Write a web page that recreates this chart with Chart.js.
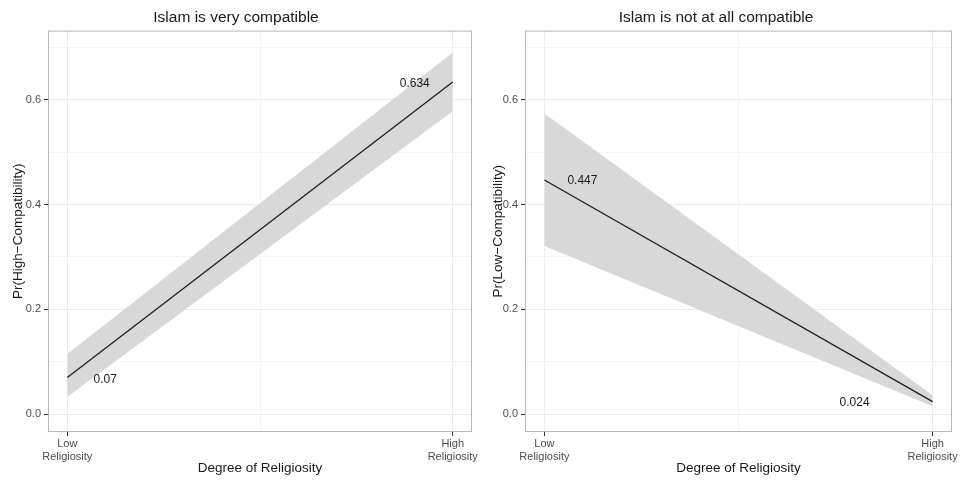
<!DOCTYPE html>
<html>
<head>
<meta charset="utf-8">
<script src="https://cdn.jsdelivr.net/npm/chart.js@4.4.1/dist/chart.umd.min.js"></script>
<style>
  html, body { margin: 0; padding: 0; background: #fff; }
  #wrap { position: relative; width: 960px; height: 480px; }
  .panel { position: absolute; top: 0; width: 480px; height: 480px; }
</style>
</head>
<body>
<div id="wrap">
  <div class="panel" style="left:0"><canvas id="leftChart" width="480" height="480"></canvas></div>
  <div class="panel" style="left:480px"><canvas id="rightChart" width="480" height="480"></canvas></div>
</div>
<script>
// x positions: 0 = Low religiosity, 1 = High religiosity
const religiosityX = [0, 1];
const xTickLabels = [['Low', 'Religiosity'], ['High', 'Religiosity']];
const xMinorTicks = [0.5];
const yMajorTicks = [0, 0.2, 0.4, 0.6];
const yMinorTicks = [0.1, 0.3, 0.5, 0.7];

// Islam is very compatible
const highCompatEst = [0.07, 0.634];
const highCompatLower = [0.033, 0.578];
const highCompatUpper = [0.115, 0.69];

// Islam is not at all compatible
const lowCompatEst = [0.447, 0.024];
const lowCompatLower = [0.321, 0.015];
const lowCompatUpper = [0.574, 0.036];

Chart.defaults.font.family = '"Liberation Sans", Arial, Helvetica, sans-serif';
Chart.defaults.color = '#4d4d4d';

function toPoints(values) {
  return values.map((v, i) => ({ x: religiosityX[i], y: v }));
}

// grey frame round the plot area, like theme_bw
const panelFrame = {
  id: 'panelFrame',
  afterDraw(chart) {
    const { ctx, chartArea: a } = chart;
    ctx.save();
    ctx.strokeStyle = '#b8b8b8';
    ctx.lineWidth = 1;
    ctx.strokeRect(a.left + 0.5, a.top + 0.5, a.right - a.left - 1, a.bottom - a.top - 1);
    ctx.restore();
  }
};

// value labels next to the end points of the estimate line (dataset 0)
const pointLabels = {
  id: 'pointLabels',
  afterDatasetsDraw(chart, args, opts) {
    const ds = chart.data.datasets[0];
    const meta = chart.getDatasetMeta(0);
    const ctx = chart.ctx;
    ctx.save();
    ctx.font = '12px "Liberation Sans", Arial, sans-serif';
    ctx.fillStyle = '#1a1a1a';
    ctx.textAlign = 'center';
    ctx.textBaseline = 'middle';
    meta.data.forEach((pt, i) => {
      const off = opts.offsets[i];
      ctx.fillText(String(ds.data[i].y), pt.x + off[0], pt.y + off[1]);
    });
    ctx.restore();
  }
};

function makeChart(id, title, yTitle, est, lower, upper, offsets, yWidth) {
  const ctx = document.getElementById(id).getContext('2d');
  return new Chart(ctx, {
    type: 'line',
    data: {
      // Chart.js paints the last dataset first, so the estimate line goes first to sit on top
      datasets: [
        {
          data: toPoints(est),
          borderColor: '#1e1e1e',
          borderWidth: 1.3,
          pointRadius: 0,
          fill: false
        },
        {
          data: toPoints(upper),
          borderWidth: 0,
          pointRadius: 0,
          backgroundColor: '#d8d8d8',
          fill: '+1'
        },
        {
          data: toPoints(lower),
          borderWidth: 0,
          pointRadius: 0,
          fill: false
        }
      ]
    },
    options: {
      responsive: false,
      animation: false,
      layout: { padding: { left: 0, right: 8, top: 0, bottom: 0 } },
      plugins: {
        legend: { display: false },
        tooltip: { enabled: false },
        title: {
          display: true,
          text: title,
          color: '#1a1a1a',
          font: { size: 15.5, weight: 'normal' },
          padding: { top: 8, bottom: 4 }
        },
        pointLabels: { offsets: offsets }
      },
      scales: {
        x: {
          type: 'linear',
          min: -0.05,
          max: 1.05,
          afterFit(scale) { scale.height = 48; },
          afterBuildTicks(scale) {
            scale.ticks = religiosityX.concat(xMinorTicks).map(v => ({ value: v }));
          },
          ticks: {
            autoSkip: false,
            maxRotation: 0,
            padding: 1,
            font: { size: 11, lineHeight: 1.2 },
            color: '#4d4d4d',
            callback(value) {
              const i = religiosityX.indexOf(value);
              return i >= 0 ? xTickLabels[i] : '';
            }
          },
          grid: {
            color(c) { return c.tick && xMinorTicks.includes(c.tick.value) ? '#f4f4f4' : '#ececec'; },
            tickColor(c) { return c.tick && xMinorTicks.includes(c.tick.value) ? 'rgba(0,0,0,0)' : '#333'; },
            tickLength: 4,
            lineWidth: 1
          },
          border: { display: false },
          title: {
            display: true,
            text: 'Degree of Religiosity',
            color: '#1a1a1a',
            font: { size: 13.5 },
            padding: { top: 0, bottom: 4 }
          }
        },
        y: {
          type: 'linear',
          min: -0.034,
          max: 0.732,
          afterFit(scale) { scale.width = yWidth; },
          afterBuildTicks(scale) {
            scale.ticks = yMajorTicks.concat(yMinorTicks).sort((a, b) => a - b).map(v => ({ value: v }));
          },
          ticks: {
            autoSkip: false,
            padding: 3,
            font: { size: 11 },
            color: '#4d4d4d',
            callback(value) {
              return yMajorTicks.includes(value) ? value.toFixed(1) : '';
            }
          },
          grid: {
            color(c) { return c.tick && yMinorTicks.includes(c.tick.value) ? '#f4f4f4' : '#ececec'; },
            tickColor(c) { return c.tick && yMinorTicks.includes(c.tick.value) ? 'rgba(0,0,0,0)' : '#333'; },
            tickLength: 4,
            lineWidth: 1
          },
          border: { display: false },
          title: {
            display: true,
            text: yTitle,
            color: '#1a1a1a',
            font: { size: 13.5 },
            padding: { top: 10, bottom: 0 }
          }
        }
      }
    },
    plugins: [panelFrame, pointLabels]
  });
}

makeChart('leftChart', 'Islam is very compatible', 'Pr(High\u2212Compatibility)',
  highCompatEst, highCompatLower, highCompatUpper, [[38, 2], [-38, 2]], 48);
makeChart('rightChart', 'Islam is not at all compatible', 'Pr(Low\u2212Compatibility)',
  lowCompatEst, lowCompatLower, lowCompatUpper, [[38, 1], [-78, 1]], 45);
</script>
</body>
</html>
